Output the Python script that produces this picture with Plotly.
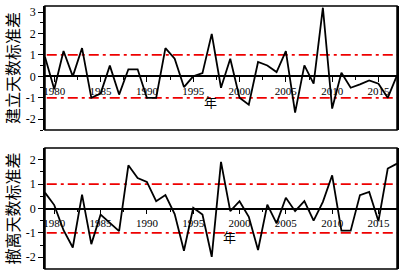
import plotly.graph_objects as go

years = list(range(1979, 2018))
establish_std = [0.9, -0.6, 1.18, 0.0, 1.32, -1.0, -0.8, 0.5, -0.85, 0.33, 0.33, -1.0, -1.0,
                 1.32, 0.82, -0.5, 0.0, 0.15, 1.98, -0.53, 0.82, -1.0, -1.32, 0.67, 0.51,
                 0.2, 1.18, -1.69, 0.51, -0.34, 3.2, -1.5, 0.17, -0.53, -0.37, -0.19, -0.34,
                 -1.0, 0.05]
withdraw_std = [0.65, 0.14, -0.89, -1.6, 0.57, -1.46, -0.25, -0.61, -0.93, 1.77, 1.25, 1.09,
                0.3, 0.55, -0.23, -1.73, 0.03, -0.25, -1.98, 1.91, -0.11, 0.3, -0.34, -1.7,
                0.16, -0.61, 0.44, -0.11, 0.3, -0.5, 0.27, 1.36, -0.91, -0.91, 0.55, 0.68,
                -0.52, 1.64, 1.84]
thresholds = [1, -1]
x_ticks = [1980, 1985, 1990, 1995, 2000, 2005, 2010, 2015]
y_ticks_top = [3, 2, 1, 0, -1, -2]
y_ticks_bot = [2, 1, 0, -1, -2]
y_title_top = "建立天数标准差"
y_title_bot = "撤离天数标准差"
x_title = "年"

W, H = 401, 274
ml, mr, mt, mb = 45, 4, 6, 5
plot_h = H - mt - mb
top_dom = [(269 - 130) / plot_h, 1.0]
bot_dom = [0.0, (269 - 148) / plot_h]
xr = [1979, 2017]
yr_top = [-2.5, 3.28]
yr_bot = [-2.48, 2.48]

fig = go.Figure()
serif_family = "Liberation Serif, Times New Roman, serif"
serif = dict(family=serif_family, size=12, color="black")
cjk = "Noto Sans CJK SC"

fig.add_trace(go.Scatter(x=years, y=establish_std, mode="lines", xaxis="x", yaxis="y",
                         line=dict(color="black", width=1.8), showlegend=False))
fig.add_trace(go.Scatter(x=years, y=withdraw_std, mode="lines", xaxis="x2", yaxis="y2",
                         line=dict(color="black", width=1.8), showlegend=False))


def zero_pos(dom, rng):
    return dom[0] + (0 - rng[0]) / (rng[1] - rng[0]) * (dom[1] - dom[0])


xcommon = dict(range=xr, showgrid=False, zeroline=False, showline=True, linecolor="black",
               linewidth=1.5, ticks="outside", ticklen=5, tickwidth=1, tickcolor="black",
               tickvals=x_ticks, ticktext=[str(v) for v in x_ticks],
               tickfont=dict(family=serif_family, size=11, color="black"),
               minor=dict(dtick=2.5, tick0=1980, ticks="outside", ticklen=3, tickcolor="black"),
               domain=[0, 1])
ycommon = dict(showgrid=False, zeroline=False, showline=True, linecolor="black", linewidth=1.5,
               mirror=True, ticks="outside", ticklen=5, tickwidth=1, tickcolor="black",
               tickfont=serif, minor=dict(dtick=0.5, ticks="outside", ticklen=3, tickcolor="black"),
               automargin=False)

fig.update_layout(
    width=W, height=H, margin=dict(l=ml, r=mr, t=mt, b=mb),
    paper_bgcolor="white", plot_bgcolor="white",
    xaxis=dict(**xcommon, anchor="free", position=zero_pos(top_dom, yr_top)),
    xaxis2=dict(**xcommon, anchor="free", position=zero_pos(bot_dom, yr_bot)),
    yaxis=dict(**ycommon, domain=top_dom, range=yr_top, anchor="x",
               tickvals=y_ticks_top, ticktext=[str(v) for v in y_ticks_top],
               title=dict(text=y_title_top, font=dict(family=cjk, size=16, color="black"), standoff=3)),
    yaxis2=dict(**ycommon, domain=bot_dom, range=yr_bot, anchor="x2",
                tickvals=y_ticks_bot, ticktext=[str(v) for v in y_ticks_bot],
                title=dict(text=y_title_bot, font=dict(family=cjk, size=16, color="black"), standoff=3)),
)

for xa, ya in (("x", "y"), ("x2", "y2")):
    fig.add_shape(type="rect", xref=f"{xa} domain", yref=f"{ya} domain", x0=0, x1=1, y0=0, y1=1,
                  line=dict(color="black", width=1.5), fillcolor="rgba(0,0,0,0)", layer="above")
    for t in thresholds:
        fig.add_shape(type="line", xref=f"{xa} domain", yref=ya, x0=0.005, x1=1, y0=t, y1=t,
                      line=dict(color="#ee0000", width=1.8, dash="10px,4px,3px,4px"), layer="below")

fig.add_annotation(text=x_title, xref="x domain", yref="y domain", x=0.469, y=0.137,
                   showarrow=False, font=dict(family=cjk, size=13, color="black"))
fig.add_annotation(text=x_title, xref="x2 domain", yref="y2 domain", x=0.523, y=0.174,
                   showarrow=False, font=dict(family=cjk, size=13, color="black"))

fig.write_html("out.html", config={"displayModeBar": False},
               post_script="document.body.style.margin='0px';document.body.style.padding='0px';")
